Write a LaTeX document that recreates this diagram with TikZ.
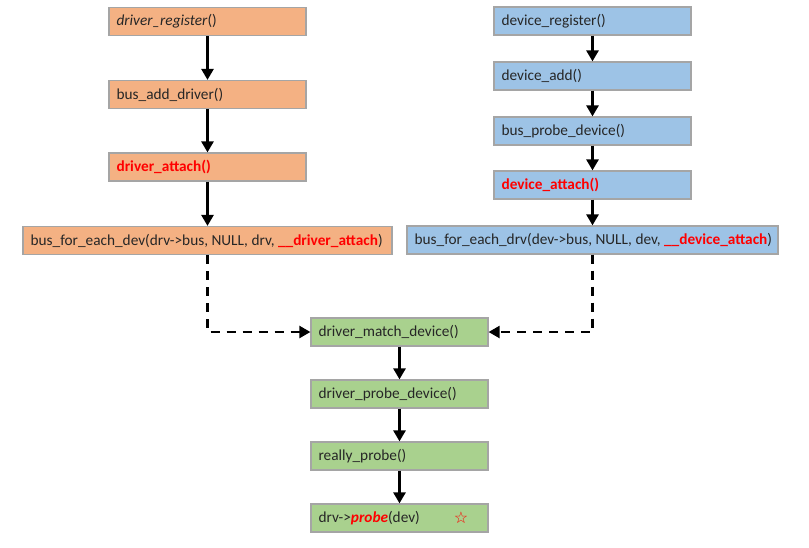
\documentclass[tikz,border=0pt]{standalone}
\usepackage{fontspec}
\setmainfont{Carlito}
\newfontfamily\symfont{DejaVu Sans}
\usetikzlibrary{arrows.meta}
\definecolor{orangebox}{RGB}{244,177,131}
\definecolor{bluebox}{RGB}{157,195,230}
\definecolor{greenbox}{RGB}{169,209,142}
\definecolor{boxline}{RGB}{165,165,165}
\definecolor{redtext}{RGB}{255,0,0}
\newcommand{\boxfont}{\fontsize{15.3}{17}\selectfont}
\begin{document}
\begin{tikzpicture}[x=1pt,y=-1pt,
  box/.style={draw=boxline,line width=1.2pt,rectangle,minimum height=28pt,inner sep=0pt},
  lbl/.style={anchor=west,font=\boxfont,text=black!85,inner sep=0pt,xshift=8pt},
  flowarrow/.style={line width=2.6pt,-{Triangle[length=11pt,width=12pt]}},
  dasharrow/.style={line width=2.2pt,dash pattern=on 9pt off 7pt,-{Triangle[length=11pt,width=12pt]}}]
\useasboundingbox (0,0) rectangle (809,547);
% left column
\node[box,fill=orangebox,minimum width=197pt] (dreg) at (207.5,21.5) {};
\node[lbl] (dregt) at (dreg.west) {\textit{driver\_register}()};
\node[box,fill=orangebox,minimum width=197pt] (badd) at (207.5,94.5) {};
\node[lbl] (baddt) at (badd.west) {bus\_add\_driver()};
\node[box,fill=orangebox,minimum width=197pt] (datt) at (207.5,167) {};
\node[lbl,text=redtext,font=\boxfont\bfseries] (dattt) at (datt.west) {driver\_attach()};
\node[box,fill=orangebox,minimum width=369pt] (bfed) at (207.5,240.5) {};
\node[lbl] (bfedt) at (bfed.west) {bus\_for\_each\_dev(drv->bus, NULL, drv, {\color{redtext}\bfseries \_\_driver\_attach})};
% right column
\node[box,fill=bluebox,minimum width=197pt] (vreg) at (592.5,21) {};
\node[lbl] (vregt) at (vreg.west) {device\_register()};
\node[box,fill=bluebox,minimum width=197pt] (vadd) at (592.5,76) {};
\node[lbl] (vaddt) at (vadd.west) {device\_add()};
\node[box,fill=bluebox,minimum width=197pt] (bpd) at (592.5,131) {};
\node[lbl] (bpdt) at (bpd.west) {bus\_probe\_device()};
\node[box,fill=bluebox,minimum width=197pt] (vatt) at (592.5,185) {};
\node[lbl,text=redtext,font=\boxfont\bfseries] (vattt) at (vatt.west) {device\_attach()};
\node[box,fill=bluebox,minimum width=371pt] (bfedr) at (592.5,240) {};
\node[lbl] (bfedrt) at (bfedr.west) {bus\_for\_each\_drv(dev->bus, NULL, dev, {\color{redtext}\bfseries \_\_device\_attach})};
% green column
\node[box,fill=greenbox,minimum width=177pt] (dmd) at (399.5,332) {};
\node[lbl] (dmdt) at (dmd.west) {driver\_match\_device()};
\node[box,fill=greenbox,minimum width=177pt] (dpd) at (399.5,394) {};
\node[lbl] (dpdt) at (dpd.west) {driver\_probe\_device()};
\node[box,fill=greenbox,minimum width=177pt] (rp) at (399.5,456) {};
\node[lbl] (rpt) at (rp.west) {really\_probe()};
\node[box,fill=greenbox,minimum width=177pt] (dp) at (399.5,518) {};
\node[lbl] (dpt) at (dp.west) {drv->{\color{redtext}\bfseries\itshape probe}(dev)};
\node[font=\symfont\fontsize{16}{18}\selectfont,text=redtext,inner sep=0pt] (star) at (461,518) {☆};
% arrows
\draw[flowarrow] (dreg) -- (badd);
\draw[flowarrow] (badd) -- (datt);
\draw[flowarrow] (datt) -- (bfed);
\draw[flowarrow] (vreg) -- (vadd);
\draw[flowarrow] (vadd) -- (bpd);
\draw[flowarrow] (bpd) -- (vatt);
\draw[flowarrow] (vatt) -- (bfedr);
\draw[flowarrow] (dmd) -- (dpd);
\draw[flowarrow] (dpd) -- (rp);
\draw[flowarrow] (rp) -- (dp);
\draw[dasharrow] (bfed.south) |- (dmd.west);
\draw[dasharrow] (bfedr.south) |- (dmd.east);
\end{tikzpicture}
\end{document}
